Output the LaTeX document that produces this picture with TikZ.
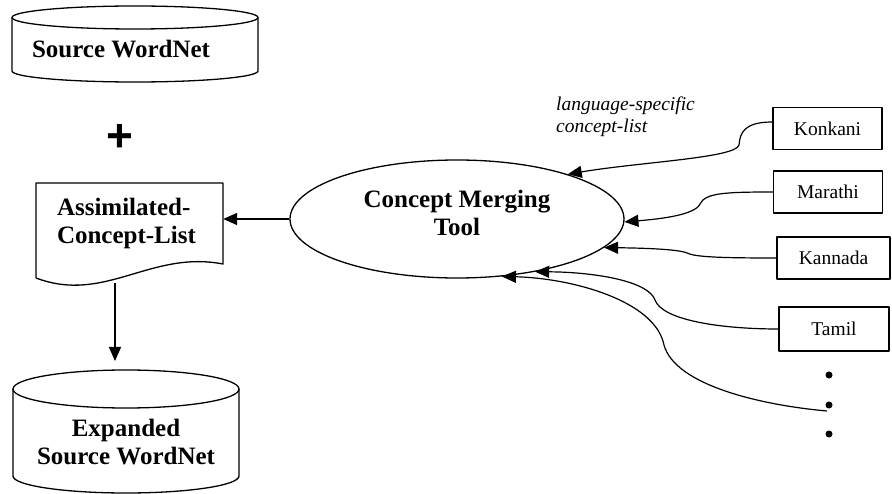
\documentclass[tikz,border=0pt]{standalone}
\usepackage{fontspec}
\setmainfont{Liberation Serif}
\newfontfamily\plusfont{Liberation Sans}
\usetikzlibrary{shapes.geometric,arrows.meta}

\begin{document}
\begin{tikzpicture}[x=1pt,y=-1pt,line join=round,
  outline/.style={line width=1.3pt},
  boldtext/.style={font=\fontsize{25}{28}\selectfont\bfseries, inner sep=0pt, align=center},
  langbox/.style={draw, line width=1.3pt, minimum height=42pt, inner sep=0pt,
    font=\fontsize{19.5}{22}\selectfont},
  arr/.style={line width=1.3pt, -{Triangle[length=14pt,width=12pt]}},
  feed/.style={line width=1.2pt, -{Triangle[length=14pt,width=12pt]}},
]
\useasboundingbox (0,0) rectangle (892,494);

% Source WordNet drum
\draw[outline] (12,17.5) -- (12,71) arc[start angle=180,end angle=360,x radius=123pt,y radius=11pt] -- (258,17.5);
\draw[outline] (135,17.5) ellipse[x radius=123pt,y radius=11.5pt];
\node[boldtext] (src) at (121,49) {Source WordNet};

% plus sign
\node[font=\plusfont\fontsize{46}{46}\selectfont\bfseries, inner sep=0pt] (plus) at (120,138.5) {+};

% assimilated list (document shape)
\draw[outline] (36,278) -- (36,183) -- (223,183) -- (223,264)
  .. controls (150,250) and (105,304) .. (36,278);
\node[boldtext, align=left, text width=145pt, inner xsep=21pt, minimum height=80pt] (doc) at (129.5,223.5)
  {Assimilated-\\Concept-List};

% expanded drum
\draw[outline] (13,389) -- (13,476) arc[start angle=180,end angle=360,x radius=113pt,y radius=17pt] -- (239,389);
\draw[outline] (126,389) ellipse[x radius=113pt,y radius=19pt];
\node[boldtext] (exp) at (126,442.5) {Expanded\\Source WordNet};

% merging tool
\node[ellipse, draw, outline, minimum width=334pt, minimum height=118pt, inner sep=0pt] (cmt) at (457,219) {};
\node[boldtext] (cmtlabel) at (457,212.5) {Concept Merging\\Tool};

% language boxes
\node[langbox, minimum width=109pt] (kon) at (827.5,128.5) {Konkani};
\node[langbox, minimum width=109pt] (mar) at (828,192) {Marathi};
\node[langbox, minimum width=113pt] (kan) at (833.5,258) {Kannada};
\node[langbox, minimum width=110pt, minimum height=44pt] (tam) at (834,329) {Tamil};

% continuation dots
\fill (829,375) circle[radius=3.5pt];
\fill (829,405) circle[radius=3.5pt];
\fill (829,434) circle[radius=3.5pt];
\coordinate (more) at (827,411);

\node[font=\fontsize{19.5}{22}\selectfont\itshape, align=left, anchor=north west, inner sep=0pt] (lbl)
  at (556,96.5) {language-specific\\concept-list};

% connectors
\draw[arr] (cmt.west) -- (cmt.west -| doc.east);
\coordinate (docfoot) at (115,283);
\coordinate (exptop) at (115,361);
\draw[arr] (docfoot) -- (exptop);

\draw[feed] ([yshift=6.5pt]kon.west) .. controls (745,122) and (740,132) .. (739,145)
  .. controls (736,158) and (640,162) .. (cmt.22.5);
\draw[feed] (mar.west) .. controls (725,192) and (705,193) .. (700,204)
  .. controls (695,215) and (660,219) .. (cmt.-1);
\draw[feed] (kan.west) .. controls (720,258) and (695,257) .. (687,253)
  .. controls (678,249) and (640,248) .. (cmt.-11.8);
\draw[feed] (tam.west) .. controls (720,329) and (662,320) .. (655,300)
  .. controls (648,280) and (590,272) .. (cmt.-34.2);
\draw[feed] (more) .. controls (760,405) and (675,385) .. (664,345)
  .. controls (655,300) and (570,278) .. (cmt.-52);
\end{tikzpicture}
\end{document}
